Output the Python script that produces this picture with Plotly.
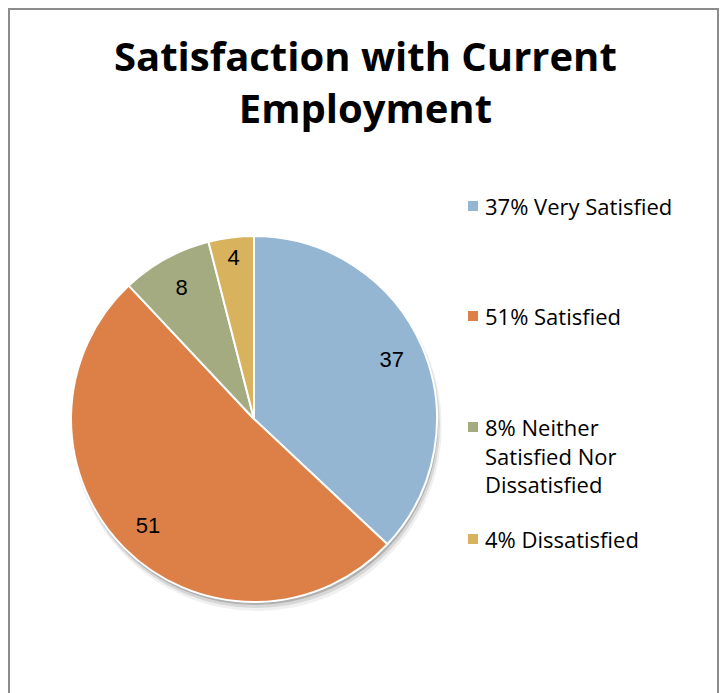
import plotly.graph_objects as go

categories = ["Very Satisfied", "Satisfied", "Neither Satisfied Nor Dissatisfied", "Dissatisfied"]
values = [37, 51, 8, 4]
legend_labels = ["37% Very Satisfied", "51% Satisfied", "8% Neither<br>Satisfied Nor<br>Dissatisfied", "4% Dissatisfied"]
colors = ["#94B6D2", "#DD8047", "#A5AB81", "#D8B25C"]
title_text = "Satisfaction with Current<br>Employment"

W, H = 723, 693

def px(x):
    return x / W

def py(y):
    return (H - y) / H

cx, cy, r = 254, 419, 183
pie_domain = dict(x=[px(cx - r), px(cx + r)], y=[py(cy + r), py(cy - r)])

fig = go.Figure()
fig.add_trace(go.Pie(
    labels=categories,
    values=values,
    sort=False,
    direction="clockwise",
    rotation=0,
    marker=dict(colors=colors, line=dict(color="white", width=2)),
    textinfo="none",
    domain=pie_domain,
    showlegend=False,
    hoverinfo="label+value",
))
# transparent ring overlay used only to place the value labels toward the rim
fig.add_trace(go.Pie(
    labels=categories,
    values=values,
    sort=False,
    direction="clockwise",
    rotation=0,
    hole=0.64,
    marker=dict(colors=["rgba(0,0,0,0)"] * len(values), line=dict(width=0)),
    textinfo="value",
    textposition="inside",
    insidetextorientation="horizontal",
    textfont=dict(family="Liberation Sans, Arial, sans-serif", size=22, color="black"),
    domain=pie_domain,
    showlegend=False,
    hoverinfo="label+value",
))

shapes = []
# soft drop shadow behind pie
for off, extra, op in [(7, 2, 0.06), (5, 1, 0.10), (3, 0, 0.18)]:
    shapes.append(dict(type="circle", xref="paper", yref="paper",
                       x0=px(cx - r - extra + off * 0.4), x1=px(cx + r + extra + off * 0.4),
                       y0=py(cy + r + extra + off), y1=py(cy - r - extra + off),
                       fillcolor=f"rgba(0,0,0,{op})", line=dict(width=0), layer="below"))
# chart border
shapes.append(dict(type="rect", xref="paper", yref="paper",
                   x0=px(9), x1=px(718), y0=-0.1, y1=py(9),
                   line=dict(color="#8c8c8c", width=2), fillcolor="rgba(0,0,0,0)"))

annotations = [dict(xref="paper", yref="paper", x=px(365), y=py(82), xanchor="center", yanchor="middle",
                    showarrow=False, text="<b>" + title_text + "</b>",
                    font=dict(family="Open Sans, sans-serif", size=40, color="black"))]
first_line_y = [206, 316, 427, 539]
line_gap = 29
for lab, col, y0 in zip(legend_labels, colors, first_line_y):
    n = lab.count("<br>") + 1
    shapes.append(dict(type="rect", xref="paper", yref="paper",
                       x0=px(468), x1=px(478), y0=py(y0 + 5), y1=py(y0 - 5),
                       fillcolor=col, line=dict(width=0)))
    annotations.append(dict(xref="paper", yref="paper", x=px(483), y=py(y0 + (n - 1) * line_gap / 2),
                            xanchor="left", yanchor="middle", align="left", showarrow=False,
                            text=lab, font=dict(family="Open Sans, sans-serif", size=22, color="black")))

fig.update_layout(
    width=W, height=H,
    margin=dict(l=0, r=0, t=0, b=0),
    paper_bgcolor="white", plot_bgcolor="white",
    shapes=shapes,
    annotations=annotations,
)

fig.write_html("out.html", config={"displayModeBar": False},
               post_script="document.body.style.margin='0';")
